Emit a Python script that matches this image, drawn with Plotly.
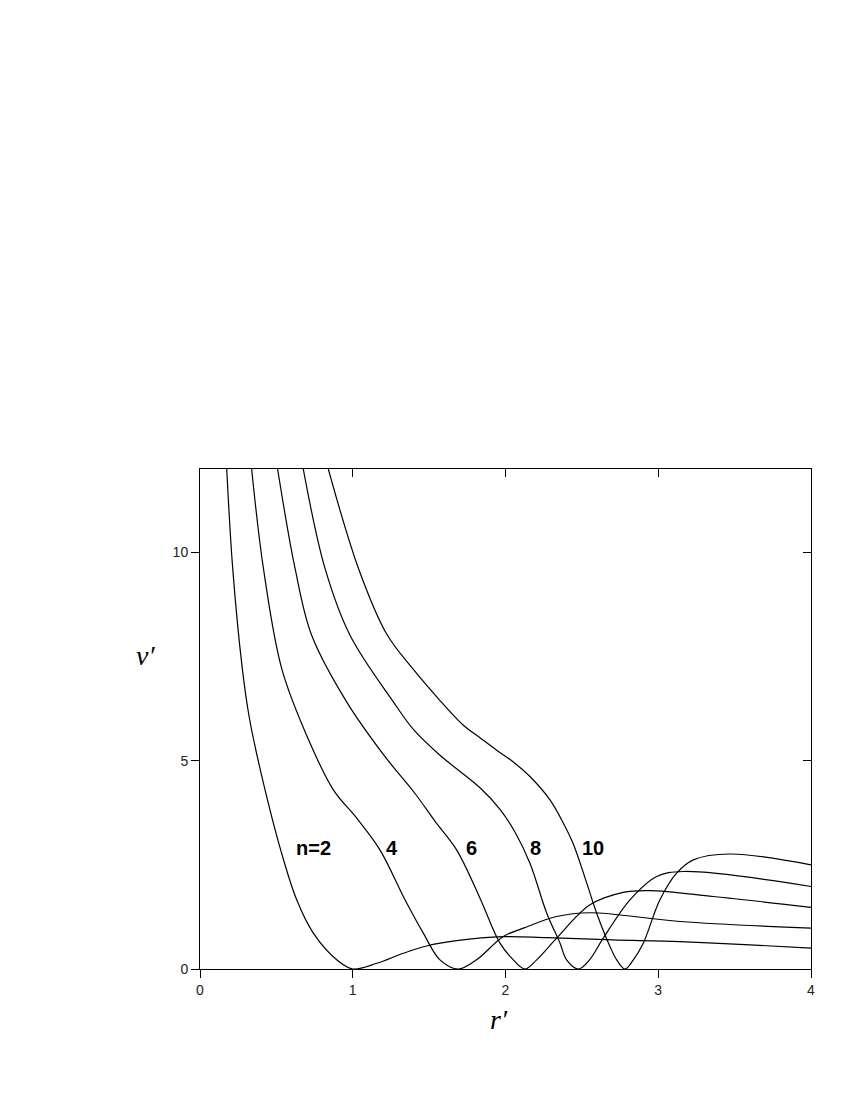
import plotly.graph_objects as go

# curves (r', v') for n = 2, 4, 6, 8, 10
r_n2 = [0.175, 0.214, 0.277, 0.323, 0.393, 0.528, 0.633, 0.742, 0.895, 1.0,
        1.157, 1.331, 1.484, 1.68, 1.986, 2.27, 2.7, 3.142, 3.6, 4.0]
v_n2 = [12, 9.62, 7.21, 6.03, 4.81, 2.86, 1.66, 0.86, 0.22, 0,
        0.137, 0.377, 0.553, 0.68, 0.777, 0.753, 0.7, 0.657, 0.58, 0.5]

r_n4 = [0.338, 0.415, 0.535, 0.698, 0.873, 1.026, 1.178, 1.342, 1.462, 1.571,
        1.691, 1.81, 1.986, 2.117, 2.335, 2.553, 3.142, 4.0]
v_n4 = [12, 9.62, 7.21, 5.61, 4.3, 3.62, 2.86, 1.66, 0.86, 0.22,
        0, 0.22, 0.78, 0.98, 1.26, 1.35, 1.14, 0.98]

r_n6 = [0.508, 0.622, 0.731, 0.96, 1.2, 1.41, 1.538, 1.68, 1.833, 1.964, 2.051, 2.128,
        2.204, 2.335, 2.553, 2.771, 2.946, 3.36, 4.0]
v_n6 = [12, 9.62, 8.01, 6.41, 5.15, 4.2, 3.55, 2.86, 1.7, 0.62, 0.22, 0,
        0.22, 0.74, 1.54, 1.84, 1.88, 1.74, 1.48]

r_n8 = [0.676, 0.818, 0.982, 1.266, 1.397, 1.571, 1.833, 1.96, 2.06, 2.16, 2.27, 2.357,
        2.40, 2.477, 2.55, 2.64, 2.815, 2.99, 3.164, 4.0]
v_n8 = [12, 9.62, 8.01, 6.41, 5.75, 5.13, 4.35, 3.85, 3.3, 2.54, 1.34, 0.62,
        0.22, 0, 0.22, 0.74, 1.66, 2.22, 2.34, 1.98]

r_n10 = [0.840, 1.037, 1.222, 1.397, 1.56, 1.724, 1.833, 1.942, 2.051, 2.16, 2.291, 2.379,
         2.444, 2.532, 2.597, 2.684, 2.728, 2.782, 2.837, 2.902, 3.011, 3.12, 3.23, 3.47, 4.0]
v_n10 = [12, 9.62, 8.04, 7.19, 6.49, 5.85, 5.55, 5.25, 4.97, 4.62, 4.06, 3.5,
         3.0, 2.06, 1.34, 0.54, 0.22, 0, 0.22, 0.62, 1.66, 2.30, 2.62, 2.76, 2.5]

curves = [(r_n2, v_n2), (r_n4, v_n4), (r_n6, v_n6), (r_n8, v_n8), (r_n10, v_n10)]

label_text = ["n=2", "4", "6", "8", "10"]
label_r = [0.745, 1.255, 1.779, 2.197, 2.575]
label_v = [2.9, 2.9, 2.9, 2.9, 2.9]

fig = go.Figure()
for r, v in curves:
    fig.add_trace(go.Scatter(x=r, y=v, mode="lines",
                             line=dict(color="black", width=1.2, shape="spline", smoothing=1.0),
                             showlegend=False, hoverinfo="skip"))

# dummy trace so the mirrored axes (inside ticks on top/right) get drawn
fig.add_trace(go.Scatter(x=[None], y=[None], xaxis="x2", yaxis="y2", showlegend=False))

for t, x, y in zip(label_text, label_r, label_v):
    fig.add_annotation(x=x, y=y, text="<b>%s</b>" % t, showarrow=False,
                       font=dict(family="Liberation Sans, Arial", size=20, color="black"))

fig.add_annotation(xref="paper", yref="paper", x=-0.108, y=0.628, text="<i>v\u2032</i>", showarrow=False,
                   font=dict(family="Liberation Serif, Times New Roman", size=28, color="black"))
fig.add_annotation(xref="paper", yref="paper", x=0.49, y=-0.136, text="<i>r\u2032</i>", showarrow=False,
                   font=dict(family="Liberation Serif, Times New Roman", size=28, color="black"))

tick_font = dict(family="Liberation Sans, Arial", size=14, color="#222")
fig.update_layout(
    width=850, height=1100,
    margin=dict(l=192, r=47, t=461, b=139),
    paper_bgcolor="white", plot_bgcolor="white",
    xaxis=dict(range=[0, 4], dtick=1, ticks="outside", ticklen=8, tickcolor="black",
               showline=True, linecolor="black", linewidth=1, showgrid=False, zeroline=False,
               tickfont=tick_font),
    yaxis=dict(range=[0, 12], tickvals=[0, 5, 10], ticks="outside", ticklen=8, tickcolor="black",
               showline=True, linecolor="black", linewidth=1, showgrid=False, zeroline=False,
               tickfont=tick_font),
    xaxis2=dict(range=[0, 4], dtick=1, overlaying="x", side="top", ticks="inside", ticklen=8,
                tickcolor="black", showline=True, linecolor="black", linewidth=1,
                showgrid=False, zeroline=False, showticklabels=False),
    yaxis2=dict(range=[0, 12], tickvals=[0, 5, 10], overlaying="y", side="right", ticks="inside",
                ticklen=8, tickcolor="black", showline=True, linecolor="black", linewidth=1,
                showgrid=False, zeroline=False, showticklabels=False),
)

fig.write_html("out.html")
